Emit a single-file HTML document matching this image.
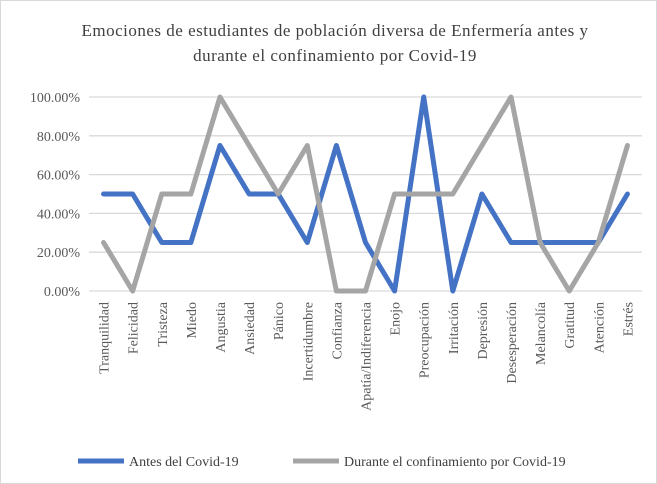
<!DOCTYPE html>
<html><head><meta charset="utf-8"><style>
body{margin:0;background:#fff;}
svg{display:block;font-family:"Liberation Serif",serif;}
</style></head><body>
<svg id="chart" width="657" height="484">
<rect x="0.5" y="0.5" width="656" height="483" fill="#fff" stroke="#d9d9d9"/>
<text x="335" y="36" text-anchor="middle" font-size="17" letter-spacing="0.5" fill="#404040">Emociones de estudiantes de población diversa de Enfermería antes y</text>
<text x="335" y="61" text-anchor="middle" font-size="17" letter-spacing="0.5" fill="#404040">durante el confinamiento por Covid-19</text>
<g id="grid"></g><g id="ylabels"></g><g id="xlabels"></g><g id="lines"></g>
<g>
<line x1="78" y1="461" x2="124" y2="461" stroke="#4472c4" stroke-width="5"/>
<text x="129" y="466" font-size="14" fill="#404040">Antes del Covid-19</text>
<line x1="293" y1="461" x2="339" y2="461" stroke="#a5a5a5" stroke-width="5"/>
<text x="344" y="466" font-size="14" fill="#404040">Durante el confinamiento por Covid-19</text>
</g>
</svg>
<script>
const categories=["Tranquilidad","Felicidad","Tristeza","Miedo","Angustia","Ansiedad","Pánico","Incertidumbre","Confianza","Apatía/Indiferencia","Enojo","Preocupación","Irritación","Depresión","Desesperación","Melancolía","Gratitud","Atención","Estrés"];
const antes=[50,50,25,25,75,50,50,25,75,25,0,100,0,50,25,25,25,25,50];
const durante=[25,0,50,50,100,75,50,75,0,0,50,50,50,75,100,25,0,25,75];
const yTicks=[0,20,40,60,80,100];
const yTickLabels=["0.00%","20.00%","40.00%","60.00%","80.00%","100.00%"];
const NS="http://www.w3.org/2000/svg";
const plotLeft=89,plotRight=642,plotTop=97,plotBottom=291;
const step=(plotRight-plotLeft)/categories.length;
const xs=i=>plotLeft+step*(i+0.5);
const ys=v=>plotBottom-(v/100)*(plotBottom-plotTop);
function mk(t,a,p){const e=document.createElementNS(NS,t);for(const k in a)e.setAttribute(k,a[k]);p.appendChild(e);return e;}
const g=document.getElementById('grid'),yl=document.getElementById('ylabels'),xl=document.getElementById('xlabels'),ln=document.getElementById('lines');
yTicks.forEach((t,i)=>{
 const l=mk('line',{x1:plotLeft,x2:plotRight,y1:ys(t),y2:ys(t),stroke:'#d9d9d9','stroke-width':1.3},g);
 
 
 const tx=mk('text',{x:80,y:ys(t)+5,'text-anchor':'end','font-size':14,fill:'#595959'},yl);
 tx.textContent=yTickLabels[i];
 
 
});
categories.forEach((c,i)=>{
 const tx=mk('text',{transform:`translate(${xs(i)+5},302) rotate(-90)`,'text-anchor':'end','font-size':14,fill:'#595959'},xl);
 tx.textContent=c;
 
 
});
function series(vals,color,name){
 const p=mk('polyline',{points:vals.map((v,i)=>xs(i)+','+ys(v)).join(' '),fill:'none',stroke:color,'stroke-width':5,'stroke-linejoin':'round','stroke-linecap':'round'},ln);
 
 
}
series(antes,'#4472c4','series-antes');
series(durante,'#a5a5a5','series-durante');
</script>
</body></html>
